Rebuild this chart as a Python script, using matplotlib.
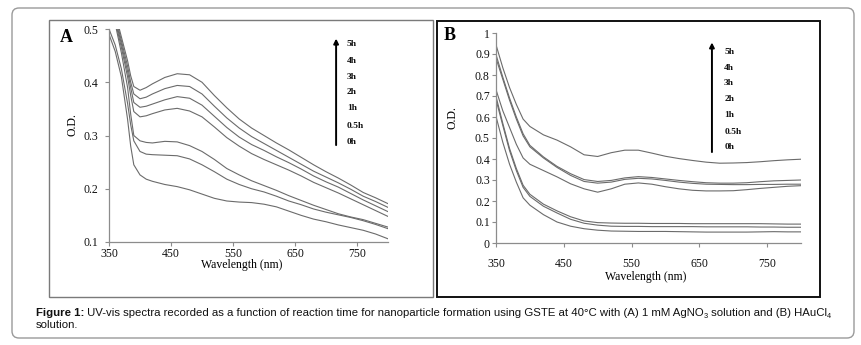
import matplotlib
matplotlib.use("Agg")
import matplotlib.pyplot as plt
from matplotlib.patches import FancyBboxPatch, Rectangle

# ---------------- data ----------------
times = ["5h", "4h", "3h", "2h", "1h", "0.5h", "0h"]

xA = [350, 360, 370, 380, 385, 390, 400, 410, 420, 440, 460, 480, 500, 520,
      540, 560, 580, 600, 620, 640, 660, 680, 700, 720, 740, 760, 780, 800]
a_0h = [0.490, 0.458, 0.410, 0.330, 0.280, 0.245, 0.226, 0.218, 0.214, 0.208, 0.204, 0.198, 0.190, 0.182,
        0.177, 0.175, 0.174, 0.171, 0.166, 0.158, 0.150, 0.143, 0.138, 0.132, 0.127, 0.122, 0.115, 0.106]
a_05h = [0.500, 0.470, 0.425, 0.360, 0.320, 0.290, 0.270, 0.265, 0.264, 0.263, 0.262, 0.256, 0.245, 0.232,
         0.218, 0.208, 0.200, 0.194, 0.186, 0.177, 0.170, 0.162, 0.156, 0.151, 0.146, 0.140, 0.133, 0.125]
a_1h = [0.560, 0.510, 0.455, 0.390, 0.340, 0.300, 0.290, 0.287, 0.286, 0.289, 0.288, 0.281, 0.270, 0.255,
        0.238, 0.226, 0.215, 0.206, 0.197, 0.187, 0.178, 0.169, 0.161, 0.153, 0.147, 0.142, 0.135, 0.128]
a_2h = [0.570, 0.515, 0.465, 0.410, 0.375, 0.345, 0.335, 0.337, 0.341, 0.348, 0.351, 0.346, 0.335, 0.316,
        0.296, 0.280, 0.266, 0.255, 0.245, 0.235, 0.224, 0.212, 0.202, 0.192, 0.181, 0.170, 0.159, 0.148]
a_3h = [0.575, 0.520, 0.472, 0.420, 0.390, 0.362, 0.353, 0.355, 0.359, 0.367, 0.373, 0.370, 0.357, 0.336,
        0.315, 0.297, 0.283, 0.272, 0.260, 0.249, 0.237, 0.224, 0.213, 0.203, 0.191, 0.179, 0.168, 0.157]
a_4h = [0.580, 0.525, 0.478, 0.430, 0.400, 0.378, 0.369, 0.372, 0.378, 0.388, 0.394, 0.392, 0.378, 0.355,
        0.333, 0.314, 0.298, 0.285, 0.272, 0.259, 0.246, 0.233, 0.222, 0.211, 0.199, 0.186, 0.176, 0.165]
a_5h = [0.585, 0.530, 0.485, 0.440, 0.412, 0.392, 0.385, 0.390, 0.397, 0.409, 0.416, 0.414, 0.400, 0.375,
        0.352, 0.331, 0.314, 0.300, 0.286, 0.273, 0.259, 0.245, 0.232, 0.220, 0.207, 0.193, 0.183, 0.172]

xB = [350, 360, 370, 380, 390, 400, 420, 440, 460, 480, 500, 520, 540,
      560, 580, 600, 620, 640, 660, 680, 700, 720, 740, 760, 780, 800]
b_0h = [0.603, 0.480, 0.375, 0.290, 0.215, 0.180, 0.135, 0.100, 0.080, 0.068, 0.061, 0.057, 0.056,
        0.055, 0.055, 0.055, 0.054, 0.053, 0.052, 0.052, 0.052, 0.052, 0.053, 0.054, 0.053, 0.053]
b_05h = [0.683, 0.560, 0.440, 0.345, 0.265, 0.222, 0.175, 0.143, 0.113, 0.094, 0.085, 0.080, 0.079,
         0.079, 0.078, 0.078, 0.078, 0.078, 0.077, 0.077, 0.077, 0.077, 0.076, 0.076, 0.075, 0.075]
b_1h = [0.698, 0.570, 0.450, 0.355, 0.275, 0.232, 0.185, 0.153, 0.125, 0.105, 0.097, 0.095, 0.094,
        0.094, 0.093, 0.093, 0.093, 0.092, 0.092, 0.092, 0.092, 0.092, 0.092, 0.091, 0.090, 0.090]
b_2h = [0.730, 0.630, 0.550, 0.470, 0.405, 0.375, 0.345, 0.315, 0.282, 0.258, 0.242, 0.258, 0.280,
        0.286, 0.280, 0.268, 0.258, 0.251, 0.248, 0.248, 0.249, 0.254, 0.260, 0.265, 0.270, 0.273]
b_3h = [0.880, 0.780, 0.680, 0.590, 0.510, 0.458, 0.405, 0.360, 0.322, 0.293, 0.285, 0.290, 0.303,
        0.308, 0.305, 0.298, 0.290, 0.284, 0.280, 0.279, 0.278, 0.278, 0.279, 0.279, 0.280, 0.280]
b_4h = [0.897, 0.790, 0.690, 0.600, 0.520, 0.465, 0.410, 0.365, 0.330, 0.302, 0.293, 0.298, 0.310,
        0.316, 0.312, 0.305, 0.298, 0.292, 0.287, 0.285, 0.285, 0.287, 0.292, 0.296, 0.298, 0.300]
b_5h = [0.944, 0.835, 0.740, 0.660, 0.590, 0.555, 0.515, 0.490, 0.458, 0.420, 0.412, 0.430, 0.442,
        0.442, 0.428, 0.413, 0.402, 0.393, 0.385, 0.380, 0.381, 0.383, 0.387, 0.392, 0.396, 0.399]

seriesA = [a_0h, a_05h, a_1h, a_2h, a_3h, a_4h, a_5h]
seriesB = [b_0h, b_05h, b_1h, b_2h, b_3h, b_4h, b_5h]
xticks = [350, 450, 550, 650, 750]
yticksA = [0.1, 0.2, 0.3, 0.4, 0.5]
yticklabelsA = ["0.1", "0.2", "0.3", "0.4", "0.5"]
yticksB = [0, 0.1, 0.2, 0.3, 0.4, 0.5, 0.6, 0.7, 0.8, 0.9, 1.0]
yticklabelsB = ["0", "0.1", "0.2", "0.3", "0.4", "0.5", "0.6", "0.7", "0.8", "0.9", "1"]

# ---------------- figure ----------------
W, H = 861, 345
fig = plt.figure(figsize=(W / 100, H / 100), dpi=100)
fig.patch.set_facecolor("white")

def fx(px):
    return px / W

def fy(py):
    return 1 - py / H

serif = "Liberation Serif"
line_col = "#6b6b6b"
spine_col = "#8c8c8c"
TS = 8.5

# outer rounded frame and panel frames (in inches)
fig.add_artist(FancyBboxPatch((12 / 100, (H - 338) / 100), (854 - 12) / 100, (338 - 8) / 100,
                              boxstyle="round,pad=0,rounding_size=0.07",
                              transform=fig.dpi_scale_trans, fill=False,
                              edgecolor="#9a9a9a", lw=1.0))
fig.add_artist(Rectangle((49 / 100, (H - 297) / 100), (433 - 49) / 100, (297 - 20) / 100,
                         transform=fig.dpi_scale_trans, fill=False, edgecolor="#7a7a7a", lw=1.0))
fig.add_artist(Rectangle((437 / 100, (H - 297) / 100), (820 - 437) / 100, (297 - 21) / 100,
                         transform=fig.dpi_scale_trans, fill=False, edgecolor="#111111", lw=1.4))


def setup(ax, yticks, ylabels, ylim, xpad, ypad):
    ax.set_xlim(350, 800)
    ax.set_ylim(*ylim)
    ax.set_xticks(xticks)
    ax.set_yticks(yticks)
    ax.set_yticklabels(ylabels)
    for s in ["top", "right"]:
        ax.spines[s].set_visible(False)
    for s in ["left", "bottom"]:
        ax.spines[s].set_color(spine_col)
        ax.spines[s].set_linewidth(0.9)
    ax.tick_params(axis="both", direction="out", length=3, width=0.8, color=spine_col,
                   labelsize=TS, labelcolor="#111111")
    ax.tick_params(axis="x", pad=xpad)
    ax.tick_params(axis="y", pad=ypad)
    for lab in ax.get_xticklabels() + ax.get_yticklabels():
        lab.set_fontfamily(serif)
    ax.patch.set_alpha(0)


# Panel A
axA = fig.add_axes([fx(109), fy(242), fx(388 - 109), (242 - 29) / H])
for s in seriesA:
    axA.plot(xA, s, color=line_col, lw=0.8, clip_on=True)
setup(axA, yticksA, yticklabelsA, (0.1, 0.5), 1.5, 5.0)

# Panel B
axB = fig.add_axes([fx(496), fy(243), fx(801 - 496), (243 - 33) / H])
for s in seriesB:
    axB.plot(xB, s, color=line_col, lw=0.8)
setup(axB, yticksB, yticklabelsB, (0, 1), 8.0, 1.5)


def timeline(ax, ax_x, y0, y1, lab_x, lab_ys):
    ax.annotate("", xy=(ax_x, y1), xytext=(ax_x, y0), xycoords="axes fraction",
                arrowprops=dict(arrowstyle="-|>", color="black", lw=1.4,
                                mutation_scale=7, shrinkA=0, shrinkB=0))
    for t, yy in zip(times, lab_ys):
        ax.text(lab_x, yy, t, transform=ax.transAxes, fontsize=6.8, fontweight="bold",
                fontfamily=serif, va="center", ha="left", color="#111111")


timeline(axA, 0.814, 0.455, 0.955, 0.853,
         [0.93, 0.85, 0.775, 0.704, 0.629, 0.545, 0.469])
timeline(axB, 0.708, 0.433, 0.955, 0.748,
         [0.911, 0.833, 0.762, 0.686, 0.61, 0.529, 0.455])

# panel letters
fig.text(fx(66), fy(37), "A", fontsize=13, fontweight="bold", fontfamily=serif,
         ha="center", va="center")
fig.text(fx(450), fy(36), "B", fontsize=13, fontweight="bold", fontfamily=serif,
         ha="center", va="center")

# axis labels
fig.text(fx(72), fy(125), "O.D.", rotation=90, fontsize=TS, fontfamily=serif,
         ha="center", va="center")
fig.text(fx(453), fy(118), "O.D.", rotation=90, fontsize=TS, fontfamily=serif,
         ha="center", va="center")
fig.text(fx(242), fy(265), "Wavelength (nm)", fontsize=TS, fontfamily=serif,
         ha="center", va="center")
fig.text(fx(646), fy(277), "Wavelength (nm)", fontsize=TS, fontfamily=serif,
         ha="center", va="center")

# caption built from pieces (bold lead, subscripts)
cap_font = "Liberation Sans"
CS = 8.2
renderer = fig.canvas.get_renderer()
pieces = [("Figure 1:", "bold", 0, CS),
          (" UV-vis spectra recorded as a function of reaction time for nanoparticle formation "
           "using GSTE at 40°C with (A) 1 mM AgNO", "normal", 0, CS),
          ("3", "normal", -3, CS * 0.65),
          (" solution and (B) HAuCl", "normal", 0, CS),
          ("4", "normal", -3, CS * 0.65)]
xpos = 36
for txt, wt, dy, sz in pieces:
    t = fig.text(fx(xpos), fy(313 - dy), txt, fontsize=sz, fontweight=wt, fontfamily=cap_font,
                 ha="left", va="center", color="#111111")
    bb = t.get_window_extent(renderer)
    xpos += bb.width
fig.text(fx(36), fy(325), "solution.", fontsize=CS, fontfamily=cap_font, ha="left",
         va="center", color="#111111")

fig.savefig("out.png", dpi=100)
